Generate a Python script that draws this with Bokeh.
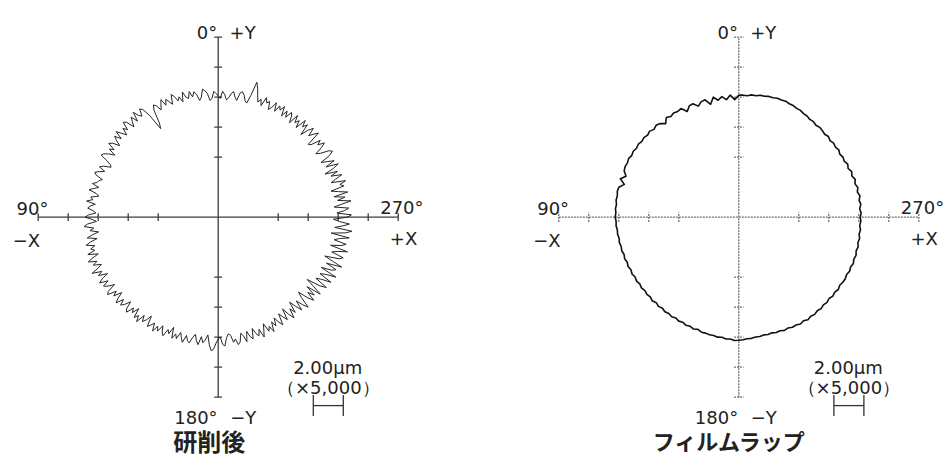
import numpy as np
from bokeh.plotting import figure
from bokeh.models import Range1d
from bokeh.core.properties import value
from bokeh.embed import file_html
from bokeh.resources import INLINE

# ---------------- data ----------------
# angles measured counter-clockwise from +Y (0°) as labelled: 90° = -X, 180° = -Y, 270° = +X
grind_step = 1     # deg between samples, grinding trace
film_step = 2      # deg between samples, film-lapping trace
# radius of the roundness trace, in chart divisions (1 division = 2.00 µm at x5,000)
grind_radius = [
    4.05, 4.12, 4.20, 3.96, 3.90, 4.14, 4.24, 4.30, 4.04, 3.94, 4.16, 4.26, 4.10, 4.30, 4.08,
    4.14, 4.34, 4.02, 4.22, 4.10, 4.28, 4.38, 4.06, 4.18, 4.30, 4.12, 4.36, 4.20, 4.05, 4.24,
    4.32, 4.15, 3.70, 3.52, 4.10, 4.38, 4.46, 4.22, 4.30, 4.50, 4.18, 4.42, 4.28, 4.12, 4.40,
    4.48, 4.20, 4.34, 4.10, 4.26, 4.44, 4.16, 4.38, 4.24, 4.06, 4.30, 4.40, 4.14, 4.28, 4.02,
    4.22, 4.36, 4.42, 4.18, 4.00, 3.94, 4.18, 4.30, 4.08, 4.24, 4.38, 4.30, 4.06, 4.16, 4.20,
    4.34, 4.10, 4.26, 4.40, 4.14, 4.04, 4.30, 4.22, 4.42, 4.12, 4.28, 4.36, 4.18, 4.08, 4.32,
    4.44, 4.20, 4.06, 4.36, 4.48, 4.16, 4.30, 4.02, 4.24, 4.42, 4.10, 4.34, 4.50, 4.22, 4.38,
    4.26, 4.52, 4.18, 4.40, 4.58, 4.30, 4.46, 4.20, 4.36, 4.60, 4.28, 4.44, 4.14, 4.38, 4.52,
    4.24, 4.46, 4.34, 4.12, 4.42, 4.50, 4.20, 4.36, 4.08, 4.30, 4.44, 4.18, 4.38, 4.26, 4.06,
    4.32, 4.40, 4.14, 4.28, 4.04, 4.36, 4.22, 4.42, 4.10, 4.30, 4.18, 3.98, 4.34, 4.24, 4.12,
    4.38, 4.16, 4.30, 4.06, 4.26, 4.36, 4.10, 4.22, 3.96, 4.32, 4.14, 4.28, 4.04, 4.20, 4.34,
    4.08, 4.24, 4.30, 4.10, 3.98, 4.18, 4.30, 4.02, 4.22, 4.12, 3.94, 4.26, 4.46, 4.40, 4.20,
    4.06, 4.00, 4.24, 4.30, 4.02, 3.90, 3.96, 4.20, 4.10, 4.30, 4.22, 3.94, 4.04, 4.26, 3.92,
    4.12, 4.22, 3.88, 4.08, 4.18, 3.98, 4.28, 4.06, 3.86, 4.16, 4.02, 4.24, 3.92, 4.10, 3.84,
    4.04, 4.18, 3.80, 3.96, 4.12, 3.74, 4.00, 4.20, 3.88, 4.08, 3.70, 3.94, 4.16, 3.82, 4.06,
    4.24, 3.86, 3.66, 4.02, 4.22, 3.90, 4.12, 3.76, 4.26, 3.94, 3.62, 4.10, 4.30, 3.84, 4.02,
    4.34, 3.88, 4.06, 4.40, 3.82, 4.18, 4.30, 3.92, 4.44, 4.08, 3.78, 4.26, 4.38, 3.96, 4.14,
    4.46, 3.86, 4.20, 4.36, 3.94, 4.10, 4.42, 3.80, 4.28, 4.48, 3.90, 4.16, 4.38, 4.04, 3.84,
    4.30, 4.44, 3.96, 4.22, 4.36, 3.88, 4.14, 4.46, 4.02, 4.28, 3.92, 4.40, 4.10, 3.86, 4.32,
    4.20, 4.42, 3.94, 4.12, 4.36, 4.00, 4.26, 3.84, 4.18, 4.38, 3.96, 4.30, 4.08, 3.88, 4.24,
    4.40, 4.30, 4.02, 3.88, 4.16, 4.32, 4.10, 4.26, 3.92, 3.86, 4.36, 4.22, 4.06, 4.34, 4.18,
    3.90, 4.28, 4.12, 4.34, 3.96, 4.20, 4.06, 4.30, 3.94, 4.16, 4.26, 4.02, 4.22, 3.98, 4.30,
    4.12, 4.24, 4.00, 4.28, 4.08, 3.96, 4.22, 4.14, 4.30, 3.98, 4.18, 4.06, 4.26, 4.50, 4.68,
    4.20, 3.92, 3.98, 4.16, 4.26, 4.20, 3.94, 4.04, 4.22, 4.14, 4.00, 3.92, 4.10, 4.20, 3.96,
]
film_radius = [
    4.07, 3.92, 4.08, 3.94, 4.06, 3.96, 4.09, 3.88, 4.07, 4.05, 3.94, 4.08, 4.06, 3.92, 4.10,
    4.07, 4.10, 4.05, 4.11, 3.96, 4.08, 4.12, 4.07, 4.13, 4.09, 4.13, 4.10, 4.14, 4.11, 4.15,
    4.12, 4.16, 4.13, 4.15, 4.12, 4.00, 4.15, 3.97, 4.12, 4.14, 4.11, 4.13, 4.10, 4.12, 4.10,
    4.12, 4.09, 4.10, 4.07, 4.08, 4.05, 4.07, 4.04, 4.06, 4.02, 4.05, 4.01, 4.04, 4.00, 4.03,
    3.99, 4.02, 3.98, 4.01, 3.97, 4.00, 3.97, 4.01, 3.96, 4.00, 3.96, 4.00, 3.97, 4.00, 3.96,
    4.00, 3.97, 4.01, 3.98, 4.02, 3.98, 4.03, 4.02, 4.04, 4.03, 4.06, 4.04, 4.08, 4.07, 4.11,
    4.10, 4.09, 4.06, 4.06, 4.03, 4.04, 4.01, 4.03, 4.01, 4.04, 4.03, 4.07, 4.04, 4.08, 4.07,
    4.11, 4.07, 4.12, 4.08, 4.11, 4.07, 4.10, 4.06, 4.09, 4.05, 4.09, 4.06, 4.10, 4.06, 4.09,
    4.10, 4.07, 4.11, 4.08, 4.12, 4.08, 4.11, 4.07, 4.10, 4.06, 4.09, 4.05, 4.08, 4.04, 4.07,
    4.05, 4.08, 4.04, 4.09, 4.05, 4.10, 4.04, 4.09, 4.03, 4.08, 4.01, 4.06, 3.99, 4.04, 3.98,
    4.01, 3.97, 4.02, 3.98, 4.01, 3.97, 4.02, 3.98, 4.01, 4.03, 4.00, 4.04, 4.03, 4.07, 4.07,
    4.11, 4.11, 4.14, 4.14, 4.17, 4.16, 4.17, 4.14, 4.15, 4.12, 4.13, 4.09, 4.10, 4.06, 4.07,
]
tick_divs = [-5, -4, -3, -2, 2, 3, 4, 5]
axis_end = 6
top_labels = ["0°", "+Y"]
bottom_labels = ["180°", "−Y"]
left_labels = ["90°", "−X"]
right_labels = ["270°", "+X"]
scale_labels = ["2.00μm", "（×5,000）"]
titles = ["研削後", "フィルムラップ"]

# ---------------- layout ----------------
W, H = 944, 457
PX = 30.0                      # pixels per division
x_start = -217.7 / PX
y_top = 216.7 / PX
centers = [0.0, 17.353]

p = figure(width=W, height=H, output_backend="svg", toolbar_location=None,
           x_axis_type=None, y_axis_type=None, min_border=0,
           x_range=Range1d(x_start, x_start + W / PX),
           y_range=Range1d(y_top - H / PX, y_top))
p.grid.visible = False
p.outline_line_color = None
p.background_fill_color = "white"
p.border_fill_color = "white"

styles = [
    dict(axis_color="#3c3c3c", axis_dash="solid", axis_width=1.3, tick_half=0.13,
         trace_color="#262626", trace_width=1.0, radius=grind_radius, step=grind_step,
         title_size="24px"),
    dict(axis_color="#707070", axis_dash="2 1", axis_width=1.3, tick_half=0.16,
         trace_color="#111111", trace_width=1.6, radius=film_radius, step=film_step,
         title_size="22px"),
]

lab_font = value("DejaVu Sans")
lab_size = "18px"
lab_color = "#222222"

for k, (cx, st) in enumerate(zip(centers, styles)):
    # axes
    p.segment(x0=[cx - axis_end, cx], y0=[0, -axis_end], x1=[cx + axis_end, cx], y1=[0, axis_end],
              line_color=st["axis_color"], line_width=st["axis_width"], line_dash=st["axis_dash"])
    tk = tick_divs + [-axis_end, axis_end]
    h = st["tick_half"]
    p.segment(x0=[cx + t for t in tk], y0=[-h] * len(tk), x1=[cx + t for t in tk], y1=[h] * len(tk),
              line_color=st["axis_color"], line_width=st["axis_width"], line_dash=st["axis_dash"])
    p.segment(x0=[cx - h] * len(tk), y0=tk, x1=[cx + h] * len(tk), y1=tk,
              line_color=st["axis_color"], line_width=st["axis_width"], line_dash=st["axis_dash"])

    # roundness trace
    r = np.array(st["radius"])
    theta = np.deg2rad(np.arange(len(r)) * st["step"])
    xs = cx - r * np.sin(theta)
    ys = r * np.cos(theta)
    xs = np.append(xs, xs[0])
    ys = np.append(ys, ys[0])
    p.line(xs, ys, line_color=st["trace_color"], line_width=st["trace_width"], line_join="round")

    # direction labels
    p.text(x=[cx - 0.03, cx - 0.02], y=[6.16, -6.68], text=[top_labels[0], bottom_labels[0]],
           text_align="right", text_baseline="alphabetic", text_font=lab_font,
           text_font_size=lab_size, text_color=lab_color)
    p.text(x=[cx + 0.38, cx + 0.40, cx - 6.72, cx - 6.85, cx + 5.40, cx + 5.72],
           y=[6.16, -6.68, 0.29, -0.78, 0.32, -0.71],
           text=[top_labels[1], bottom_labels[1], left_labels[0], left_labels[1],
                 right_labels[0], right_labels[1]],
           text_align="left", text_baseline="alphabetic", text_font=lab_font,
           text_font_size=lab_size, text_color=lab_color)

    # scale annotation
    p.text(x=[cx + 3.65, cx + 3.67], y=[-5.01, -5.68], text=scale_labels,
           text_align="center", text_baseline="alphabetic", text_font=lab_font,
           text_font_size=lab_size, text_color=lab_color)
    p.segment(x0=[cx + 3.17, cx + 3.17, cx + 4.17], y0=[-6.28, -6.63, -6.63],
              x1=[cx + 4.17, cx + 3.17, cx + 4.17], y1=[-6.28, -5.93, -5.93],
              line_color="#333333", line_width=1.3)

    # title
    p.text(x=[cx - 0.3], y=[-7.44], text=[titles[k]], text_align="center",
           text_baseline="middle", text_font=value("Noto Sans CJK JP"),
           text_font_style="bold", text_font_size=st["title_size"], text_color="#222222")

open("out.html", "w").write(file_html(p, INLINE))
